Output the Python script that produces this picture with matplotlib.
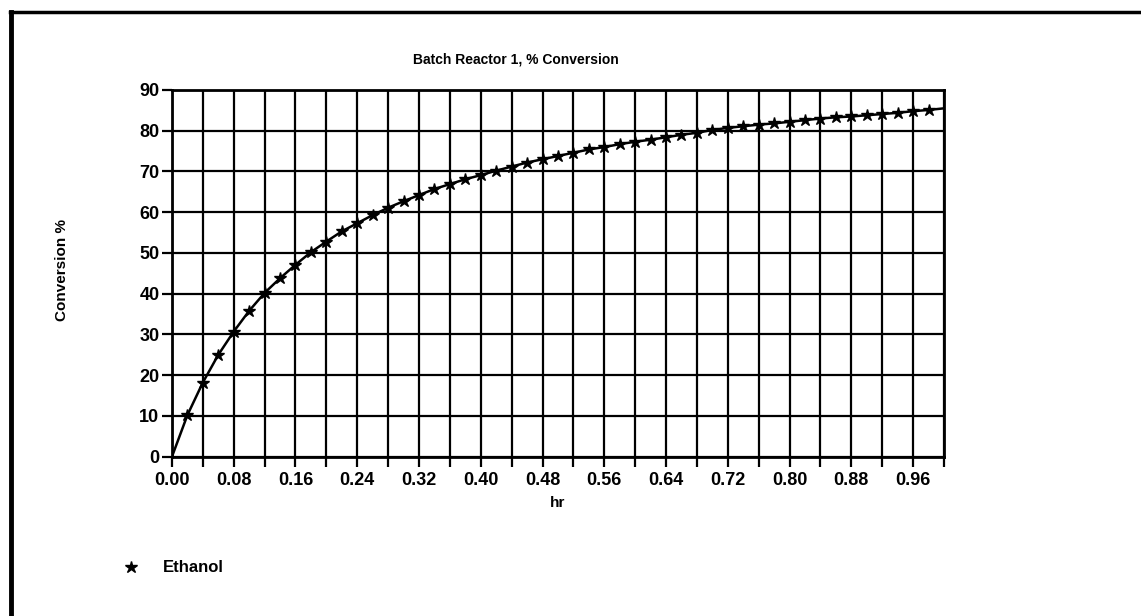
import numpy as np
import matplotlib
matplotlib.use('Agg')
import matplotlib.pyplot as plt
from matplotlib.lines import Line2D

plt.rcParams['font.family'] = ['Liberation Sans', 'DejaVu Sans']

# data
hr = [0.00, 0.02, 0.04, 0.06, 0.08, 0.10, 0.12, 0.14, 0.16, 0.18,
      0.20, 0.22, 0.24, 0.26, 0.28, 0.30, 0.32, 0.34, 0.36, 0.38,
      0.40, 0.42, 0.44, 0.46, 0.48, 0.50, 0.52, 0.54, 0.56, 0.58,
      0.60, 0.62, 0.64, 0.66, 0.68, 0.70, 0.72, 0.74, 0.76, 0.78,
      0.80, 0.82, 0.84, 0.86, 0.88, 0.90, 0.92, 0.94, 0.96, 0.98, 1.00]
conversion = [0.0, 10.2, 18.2, 25.0, 30.7, 35.8, 40.2, 43.8, 47.1, 50.2,
              52.8, 55.3, 57.3, 59.3, 61.1, 62.7, 64.2, 65.7, 66.9, 68.1,
              69.1, 70.2, 71.2, 72.2, 73.0, 73.8, 74.6, 75.4, 76.0, 76.7,
              77.3, 77.8, 78.4, 79.0, 79.5, 80.2, 80.7, 81.1, 81.5, 81.8,
              82.2, 82.6, 83.0, 83.3, 83.5, 83.8, 84.1, 84.4, 84.8, 85.1, 85.5]
series_name = 'Ethanol'
title = 'Batch Reactor 1, % Conversion'

fig = plt.figure(figsize=(11.41, 6.16), dpi=100)
ax = fig.add_axes([0.1507, 0.2586, 0.6766, 0.5953])

ax.plot(hr, conversion, color='black', lw=1.8, marker='*', ms=9,
        markevery=list(range(1, len(hr) - 1)))

ax.set_xlim(0, 1.0)
ax.set_ylim(0, 90)
xt = np.linspace(0, 1.0, 26)
ax.set_xticks(xt)
ax.set_xticklabels(['%.2f' % v if i % 2 == 0 and i < 25 else '' for i, v in enumerate(xt)])
ax.set_yticks(range(0, 91, 10))
ax.grid(True, color='black', lw=1.6)
for s in ax.spines.values():
    s.set_linewidth(2)
ax.tick_params(direction='out', length=7, width=1.6, labelsize=13)
ax.tick_params(axis='x', pad=4)
ax.tick_params(axis='y', pad=2)
for lab in ax.get_xticklabels() + ax.get_yticklabels():
    lab.set_fontweight('bold')

ax.set_xlabel('hr', fontsize=11, fontweight='bold')
ax.xaxis.set_label_coords(0.5, -0.125)
ax.xaxis.label.set_va('center')
ax.set_ylabel('Conversion %', fontsize=11, fontweight='bold')
ax.yaxis.set_label_coords(-0.1425, 0.509)
ax.yaxis.label.set_va('center')

fig.text(516 / 1141, 1 - 60 / 616, title, ha='center', va='center', fontsize=10, fontweight='bold')

# legend below the plot
h = Line2D([], [], color='black', ls='none', marker='*', ms=9)
fig.legend([h], [series_name], loc='center left', frameon=False,
           bbox_to_anchor=(103 / 1141, 1 - 568 / 616), prop={'size': 12, 'weight': 'bold'},
           handlelength=1.5, handletextpad=1.2)

# frame of the scanned page
fig.add_artist(Line2D([11 / 1141, 11 / 1141], [0, 1 - 12 / 616], color='black', lw=3.5,
                      transform=fig.transFigure))
fig.add_artist(Line2D([10 / 1141, 1], [1 - 12 / 616, 1 - 12 / 616], color='black', lw=2.5,
                      transform=fig.transFigure))

fig.savefig('out.png', dpi=100)
